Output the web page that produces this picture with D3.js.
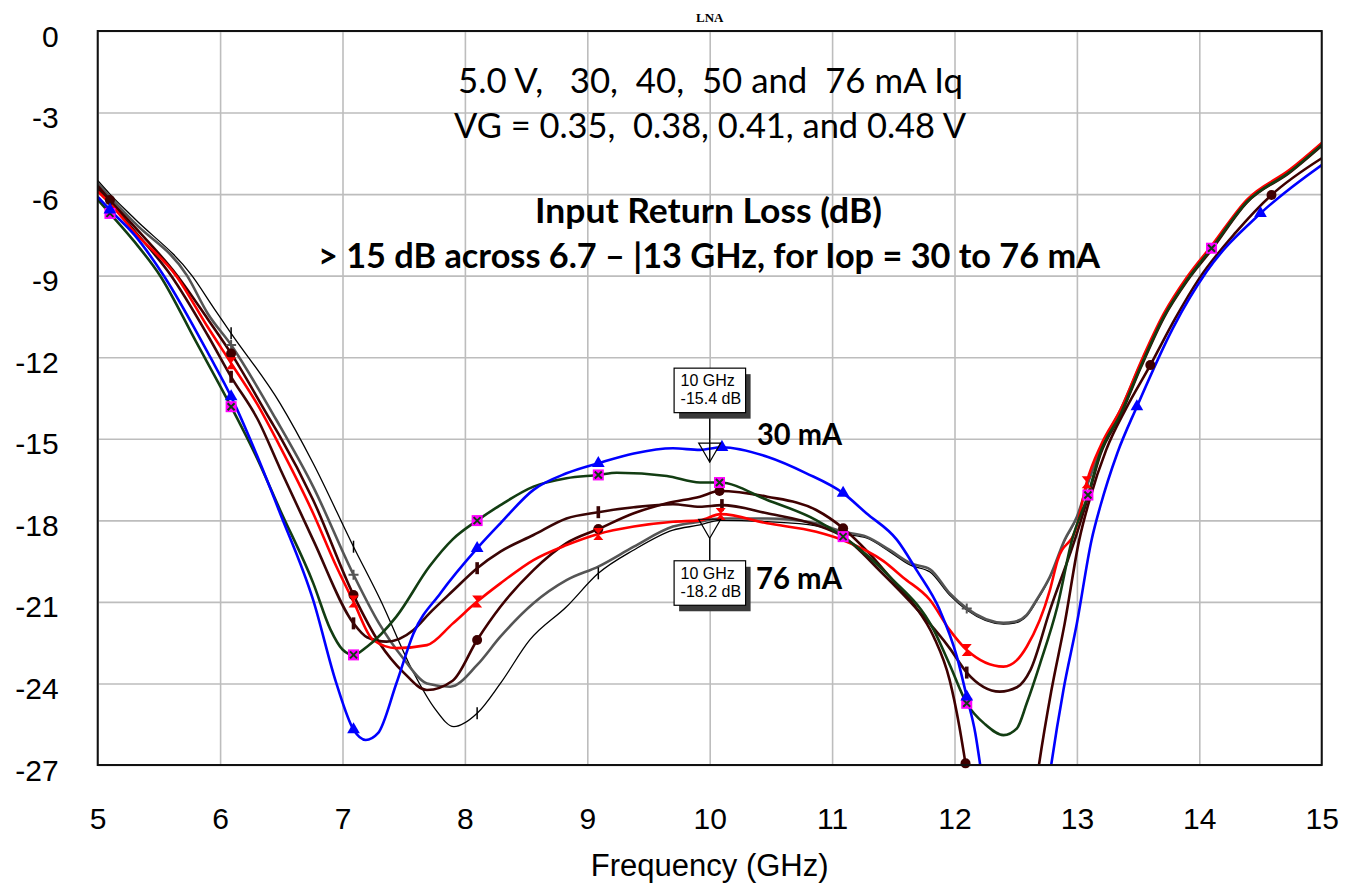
<!DOCTYPE html>
<html><head><meta charset="utf-8">
<script src="https://cdn.jsdelivr.net/npm/d3@7"></script>
<style>body{margin:0;background:#fff} text{white-space:pre}</style>
</head><body>
<svg id="c" width="1354" height="885"></svg>
<script>
// ---------- data ----------
const xTicks = [5,6,7,8,9,10,11,12,13,14,15];
const yTicks = [0,-3,-6,-9,-12,-15,-18,-21,-24,-27];

const blue = [[5.0,-6.1],[5.1,-6.58],[5.3,-7.5],[5.54,-9.0],[5.92,-12.0],[6.09,-13.45],[6.3,-15.6],[6.49,-17.74],[6.76,-20.93],[6.95,-24.0],[7.09,-25.7],[7.19,-26.08],[7.29,-25.83],[7.44,-24.0],[7.58,-22.16],[7.8,-20.68],[8.1,-19.03],[8.29,-18.11],[8.56,-16.88],[8.83,-16.27],[9.09,-15.9],[9.38,-15.54],[9.7,-15.35],[9.92,-15.41],[10.1,-15.31],[10.47,-15.66],[10.79,-16.27],[11.09,-17.0],[11.28,-17.74],[11.53,-18.72],[11.69,-19.83],[11.88,-21.3],[12.02,-23.02],[12.1,-24.49],[12.17,-25.83],[12.21,-27],[12.3,-30],[12.7,-30],[12.79,-27],[12.89,-24.24],[13.0,-21.79],[13.12,-18.72],[13.19,-17.5],[13.33,-15.53],[13.49,-13.82],[13.79,-10.88],[14.06,-8.85],[14.5,-6.71],[15.0,-4.93]];
const green = [[5.0,-6.2],[5.1,-6.71],[5.3,-7.75],[5.51,-9.0],[5.8,-11.4],[6.09,-13.82],[6.3,-15.7],[6.49,-17.62],[6.76,-20.3],[6.9,-22.0],[7.0,-22.75],[7.09,-22.95],[7.2,-22.65],[7.44,-21.54],[7.71,-19.7],[7.9,-18.7],[8.1,-18.01],[8.29,-17.44],[8.56,-16.76],[8.83,-16.45],[9.09,-16.33],[9.24,-16.25],[9.65,-16.37],[9.92,-16.61],[10.08,-16.61],[10.47,-17.25],[10.87,-17.99],[11.09,-18.6],[11.47,-20.07],[11.83,-22.03],[11.96,-23.3],[12.1,-24.73],[12.25,-25.5],[12.4,-25.9],[12.51,-25.65],[12.59,-24.73],[12.7,-23.26],[12.84,-21.18],[12.96,-18.72],[13.09,-17.07],[13.19,-15.53],[13.36,-14.06],[13.52,-12.35],[13.71,-10.51],[13.9,-9.16],[14.1,-7.99],[14.39,-6.28],[14.74,-5.18],[15.0,-4.19]];
const red = [[5.0,-5.9],[5.1,-6.35],[5.3,-7.4],[5.64,-9.0],[5.9,-10.9],[6.09,-12.22],[6.3,-13.7],[6.49,-15.29],[6.76,-17.74],[6.95,-19.7],[7.09,-20.99],[7.25,-22.4],[7.44,-22.7],[7.69,-22.59],[7.9,-21.8],[8.1,-20.99],[8.29,-20.32],[8.56,-19.46],[8.83,-18.91],[9.09,-18.5],[9.38,-18.23],[9.7,-18.05],[9.92,-18.0],[10.09,-17.77],[10.47,-18.11],[10.87,-18.42],[11.09,-18.73],[11.42,-19.5],[11.58,-20.1],[11.8,-20.93],[11.96,-22.03],[12.1,-22.77],[12.4,-23.38],[12.51,-23.14],[12.59,-22.65],[12.78,-20.56],[12.84,-19.5],[13.0,-18.2],[13.08,-16.6],[13.2,-15.2],[13.36,-13.9],[13.52,-12.2],[13.71,-10.4],[13.9,-9.05],[14.1,-7.9],[14.39,-6.2],[14.74,-5.1],[15.0,-4.12]];
const maroonBar = [[5.0,-5.8],[5.1,-6.3],[5.3,-7.35],[5.6,-9.0],[5.9,-11.2],[6.09,-12.72],[6.31,-14.31],[6.49,-16.1],[6.76,-18.72],[7.09,-21.79],[7.2,-22.3],[7.36,-22.46],[7.58,-22.03],[7.71,-21.42],[7.9,-20.6],[8.1,-19.76],[8.29,-19.15],[8.56,-18.54],[8.83,-17.93],[9.09,-17.7],[9.38,-17.52],[9.7,-17.41],[9.92,-17.5],[10.1,-17.44],[10.47,-17.74],[10.87,-18.17],[11.09,-18.6],[11.4,-19.9],[11.7,-21.3],[11.96,-22.7],[12.1,-23.6],[12.37,-24.3],[12.51,-24.14],[12.62,-23.51],[12.78,-21.3],[13.0,-18.48],[13.1,-17.0],[13.19,-15.6],[13.36,-14.1],[13.52,-12.4],[13.71,-10.55],[13.9,-9.2],[14.1,-8.05],[14.39,-6.3],[14.74,-5.2],[15.0,-4.22]];
const maroonDot = [[5.0,-5.7],[5.1,-6.22],[5.3,-7.2],[5.65,-9.0],[5.9,-10.6],[6.09,-11.86],[6.41,-14.31],[6.49,-14.92],[6.76,-17.25],[7.09,-20.75],[7.3,-22.5],[7.5,-23.6],[7.69,-24.24],[7.9,-23.9],[8.1,-22.4],[8.29,-21.18],[8.56,-19.83],[8.83,-18.84],[9.09,-18.32],[9.38,-17.74],[9.65,-17.37],[9.92,-17.13],[10.08,-16.92],[10.47,-17.13],[10.87,-17.62],[11.09,-18.29],[11.3,-19.2],[11.47,-20.07],[11.66,-21.05],[11.83,-22.28],[11.96,-23.87],[12.04,-25.59],[12.09,-26.94],[12.2,-30],[12.6,-30],[12.69,-27],[12.79,-24.3],[12.9,-21.8],[13.02,-18.7],[13.1,-17.3],[13.24,-15.4],[13.4,-13.9],[13.6,-12.29],[13.8,-10.6],[14.0,-9.1],[14.3,-7.4],[14.59,-6.03],[15.0,-4.68]];
const gray = [[5.0,-5.6],[5.1,-6.1],[5.3,-7.05],[5.73,-9.0],[5.9,-10.4],[6.09,-11.55],[6.46,-14.31],[6.76,-16.76],[7.09,-20.0],[7.3,-21.8],[7.5,-23.1],[7.69,-24.0],[7.88,-24.12],[8.1,-23.32],[8.29,-22.28],[8.56,-21.05],[8.83,-20.2],[9.09,-19.7],[9.38,-18.97],[9.7,-18.23],[9.92,-18.05],[10.08,-17.93],[10.47,-17.93],[10.87,-18.11],[11.09,-18.42],[11.28,-18.6],[11.47,-19.09],[11.64,-19.58],[11.8,-19.8],[11.96,-20.68],[12.1,-21.24],[12.4,-21.77],[12.49,-21.73],[12.59,-21.48],[12.67,-20.93],[12.78,-20.07],[12.9,-18.72],[13.0,-17.87],[13.1,-16.5],[13.2,-15.3],[13.36,-13.9],[13.52,-12.25],[13.71,-10.45],[13.9,-9.1],[14.1,-7.95],[14.39,-6.25],[14.74,-5.15],[15.0,-4.15]];
const black = [[5.0,-5.5],[5.1,-6.0],[5.3,-6.9],[5.77,-9.0],[5.95,-10.2],[6.09,-11.12],[6.49,-13.7],[6.76,-15.9],[7.09,-18.97],[7.31,-20.93],[7.58,-23.6],[7.75,-24.9],[7.91,-25.59],[8.1,-25.1],[8.29,-24.0],[8.53,-22.4],[8.83,-21.18],[9.09,-19.95],[9.38,-19.09],[9.7,-18.36],[9.92,-18.17],[10.08,-18.0],[10.47,-18.05],[10.87,-18.2],[11.09,-18.5],[11.28,-18.65],[11.47,-19.15],[11.64,-19.65],[11.8,-19.9],[11.96,-20.75],[12.1,-21.3],[12.4,-21.82],[12.49,-21.78],[12.59,-21.52],[12.67,-20.98],[12.78,-20.1],[12.9,-18.75],[13.0,-17.9],[13.1,-16.52],[13.2,-15.32],[13.36,-13.92],[13.52,-12.27],[13.71,-10.47],[13.9,-9.12],[14.1,-7.97],[14.39,-6.27],[14.74,-5.17],[15.0,-4.17]];

// marker frequencies per trace
const markBlue = [5.1,6.09,7.09,8.1,9.09,10.1,11.09,12.1,13.49,14.5];
const markGreen = [5.1,6.09,7.09,8.1,9.09,10.08,11.09,12.1,13.09,14.1];
const markRed = [6.09,7.09,8.1,9.09,10.09,12.1,13.08];
const markMaroonBar = [6.09,7.09,8.1,9.09,10.1,12.1];
const markMaroonDot = [5.1,6.09,7.09,8.1,9.09,10.08,11.09,12.09,13.6,14.59];
const markGray = [6.09,7.09,12.1];
const markBlack = [6.09,7.09,8.1,9.09];

// marker readouts
const readFreq = [10, 10];
const readVal = [-15.4, -18.2];
const readText = [["10 GHz","-15.4 dB"],["10 GHz","-18.2 dB"]];

// ---------- layout ----------
const L = 97.7, R = 1321.7, T = 31, B = 765;
const svg = d3.select("#c");
const x = d3.scaleLinear().domain([5,15]).range([L,R]);
const y = d3.scaleLinear().domain([-27,0]).range([B,T]);

svg.append("rect").attr("width",1354).attr("height",885).attr("fill","#fff");

// grid via axes
const gx = svg.append("g").attr("transform",`translate(0,${B})`)
  .call(d3.axisBottom(x).tickValues(xTicks).tickSize(-(B-T)).tickFormat(""));
gx.selectAll("line").attr("stroke","#bdbdbd").attr("stroke-width",1.6);
gx.select(".domain").remove();
const gy = svg.append("g").attr("transform",`translate(${L},0)`)
  .call(d3.axisLeft(y).tickValues(yTicks).tickSize(-(R-L)).tickFormat(""));
gy.selectAll("line").attr("stroke","#bdbdbd").attr("stroke-width",1.6);
gy.select(".domain").remove();

// tick labels via axes
const ax = svg.append("g").attr("transform",`translate(0,${B})`)
  .call(d3.axisBottom(x).tickValues(xTicks).tickSize(0).tickPadding(43).tickFormat(d=>String(d)));
ax.select(".domain").remove();
ax.selectAll("text").attr("font-family","Liberation Sans, Arial, sans-serif").attr("font-size",30).attr("fill","#000");
const ay = svg.append("g").attr("transform",`translate(${L},0)`)
  .call(d3.axisLeft(y).tickValues(yTicks).tickSize(0).tickPadding(39).tickFormat(d=>String(d)));
ay.select(".domain").remove();
ay.selectAll("text").attr("font-family","Liberation Sans, Arial, sans-serif").attr("font-size",30).attr("fill","#000").attr("dy","0.5em");

// clip
svg.append("clipPath").attr("id","clip").append("rect").attr("x",L).attr("y",T).attr("width",R-L).attr("height",B-T);

const line = d3.line().x(d=>x(d[0])).y(d=>y(d[1])).curve(d3.curveMonotoneX);
const plot = svg.append("g").attr("clip-path","url(#clip)");

const traces = [
  {d:black, c:"#000000", w:1.3, m:markBlack, sym:"tick"},
  {d:gray, c:"#555555", w:2.6, m:markGray, sym:"plus"},
  {d:maroonDot, c:"#3f0000", w:2.6, m:markMaroonDot, sym:"circle"},
  {d:maroonBar, c:"#3a0505", w:2.6, m:markMaroonBar, sym:"bar"},
  {d:red, c:"#ff0000", w:2.6, m:markRed, sym:"hourglass"},
  {d:green, c:"#123d12", w:2.6, m:markGreen, sym:"square"},
  {d:blue, c:"#0000ff", w:2.6, m:markBlue, sym:"triangle"}
];

traces.forEach(t=>{
  plot.append("path").datum(t.d).attr("d",line).attr("fill","none")
    .attr("stroke",t.c).attr("stroke-width",t.w).attr("stroke-linejoin","round");
});
// markers
traces.forEach(t=>{
  const pts = t.d.filter(p=>t.m.some(f=>Math.abs(f-p[0])<0.005));
  const g = svg.append("g");
  pts.forEach(p=>{
    const px = x(p[0]), py = y(p[1]);
    if (t.sym==="triangle") {
      g.append("path").attr("d",d3.symbol(d3.symbolTriangle,70)()).attr("transform",`translate(${px},${py})`).attr("fill",t.c);
    } else if (t.sym==="circle") {
      g.append("circle").attr("cx",px).attr("cy",py).attr("r",5).attr("fill",t.c);
    } else if (t.sym==="square") {
      g.append("rect").attr("x",px-5.5).attr("y",py-5.5).attr("width",11).attr("height",11).attr("fill","#ff00ff");
      g.append("path").attr("d",`M${px-3.5},${py-3.5}L${px+3.5},${py+3.5}M${px+3.5},${py-3.5}L${px-3.5},${py+3.5}`).attr("stroke",t.c).attr("stroke-width",2);
    } else if (t.sym==="hourglass") {
      g.append("path").attr("d",`M${px-5},${py-6}L${px+5},${py-6}L${px-5},${py+6}L${px+5},${py+6}Z`).attr("fill",t.c);
    } else if (t.sym==="bar") {
      g.append("rect").attr("x",px-1.8).attr("y",py-6).attr("width",3.6).attr("height",12).attr("fill",t.c);
    } else if (t.sym==="plus") {
      g.append("path").attr("d",`M${px-5},${py}L${px+5},${py}M${px},${py-5}L${px},${py+5}`).attr("stroke",t.c).attr("stroke-width",2);
    } else if (t.sym==="tick") {
      g.append("path").attr("d",`M${px},${py-6}L${px},${py+6}`).attr("stroke",t.c).attr("stroke-width",1.5);
    }
  });
});

// border
svg.append("rect").attr("x",L).attr("y",T).attr("width",R-L).attr("height",B-T)
  .attr("fill","none").attr("stroke","#111").attr("stroke-width",2);

// readout markers
readFreq.forEach((f,i)=>{
  const px = x(f), py = y(readVal[i]);
  const bw = 71.5, bh = 44.5;
  const bx = px - 35.6;
  const by = i===0 ? py - 37 - bh : py + 35;
  const ly1 = i===0 ? by + bh : py + 12.5;
  const ly2 = i===0 ? py + 12.5 : by;
  svg.append("line").attr("x1",px).attr("x2",px).attr("y1",ly1).attr("y2",ly2).attr("stroke","#000").attr("stroke-width",1.3);
  svg.append("path").attr("d",`M${px-11},${py-6.5}L${px+11},${py-6.5}L${px},${py+12.5}Z`)
    .attr("fill","none").attr("stroke","#000").attr("stroke-width",1.2);
  svg.append("rect").attr("x",bx+5).attr("y",by+6).attr("width",bw).attr("height",bh).attr("fill","#3a3a3a");
  svg.append("rect").attr("x",bx).attr("y",by).attr("width",bw).attr("height",bh).attr("fill","#fff").attr("stroke","#000").attr("stroke-width",1.2);
  readText[i].forEach((s,j)=>{
    svg.append("text").attr("x",bx+6.5).attr("y",by+18+j*18).text(s)
      .attr("font-family","Liberation Sans, Arial, sans-serif").attr("font-size",16).attr("fill","#000");
  });
});

// texts
function txt(s, x0, yb, size, weight, len, family){
  svg.append("text").attr("x",x0).attr("y",yb).text(s)
    .attr("xml:space","preserve")
    .attr("font-family",family||"Lato, 'Open Sans', sans-serif").attr("font-size",size)
    .attr("font-weight",weight).attr("fill","#000")
    .attr("textLength",len).attr("lengthAdjust","spacingAndGlyphs");
}
txt("5.0 V,   30,  40,  50 and  76 mA Iq", 458, 93.3, 34, "normal", 505);
txt("VG = 0.35,  0.38, 0.41, and 0.48 V", 454, 138.3, 34, "normal", 512);
txt("Input Return Loss (dB)", 535, 223.3, 34, "bold", 347);
txt("> 15 dB across 6.7 \u2013 |13 GHz, for Iop = 30 to 76 mA", 318, 268.3, 34, "bold", 782);
txt("30 mA", 757, 445, 30, "bold", 85);
txt("76 mA", 756, 589.3, 30, "bold", 86);

svg.append("text").attr("x",(L+R)/2).attr("y",21.5).attr("text-anchor","middle").text("LNA")
  .attr("font-family","Liberation Serif, 'Times New Roman', serif").attr("font-weight","bold").attr("font-size",13);
svg.append("text").attr("x",(L+R)/2).attr("y",876).attr("text-anchor","middle").text("Frequency (GHz)")
  .attr("font-family","Liberation Sans, Arial, sans-serif").attr("font-size",31);
</script>
</body></html>
